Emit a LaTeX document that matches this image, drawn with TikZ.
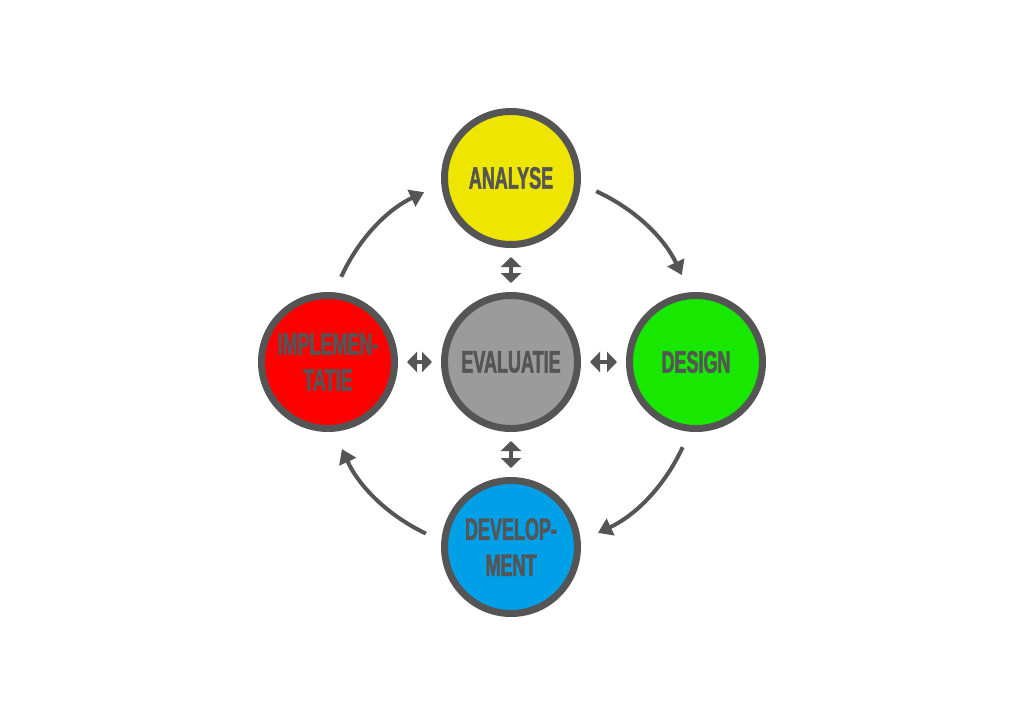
\documentclass[tikz,border=0pt]{standalone}
\usepackage{fontspec}
\usepackage{tikz}
\usetikzlibrary{arrows.meta}
\newfontfamily\stagefont[FakeStretch=0.58,FakeBold=1.5]{Liberation Sans}
\definecolor{rim}{RGB}{85,85,85}
\definecolor{cana}{RGB}{238,230,0}
\definecolor{cdes}{RGB}{24,232,0}
\definecolor{cimp}{RGB}{255,0,0}
\definecolor{cdev}{RGB}{0,160,232}
\definecolor{ceva}{RGB}{155,155,155}

\begin{document}
\begin{tikzpicture}[x=1pt,y=1pt,
    stage/.style={circle,draw=rim,line width=7pt,minimum size=133pt,inner sep=0pt,
        align=center,text=rim,font=\stagefont\bfseries\fontsize{31}{36}\selectfont},
    cyc/.style={draw=rim,line width=4pt,-{Triangle[width=18pt,length=14pt]},
        shorten <=17pt,shorten >=19pt},
    link/.style={draw=rim,line width=4.5pt,{Triangle[width=20pt,length=10pt]}-{Triangle[width=20pt,length=10pt]},
        shorten <=9pt,shorten >=9pt}]
   \useasboundingbox (-511,-362) rectangle (513,362);
   % stages
   \node[stage,fill=ceva] (eva) at (0,0) {EVALUATIE};
   \node[stage,fill=cana] (ana) at (0,184) {ANALYSE};
   \node[stage,fill=cdes] (des) at (185,0) {DESIGN};
   \node[stage,fill=cdev] (dev) at (0,-185) {DEVELOP-\\MENT};
   \node[stage,fill=cimp] (imp) at (-183,0) {IMPLEMEN-\\TATIE};
   % cycle
   \foreach \a/\b/\s/\e in {ana/des/-5/95, des/dev/-95/5, dev/imp/175/-85, imp/ana/85/185}
      \draw[cyc] (\a.\s) to[bend left=20] (\b.\e);
   % links to evaluation
   \foreach \b in {ana,des,dev,imp}
      \draw[link] (eva) -- (\b);
\end{tikzpicture}
\end{document}
